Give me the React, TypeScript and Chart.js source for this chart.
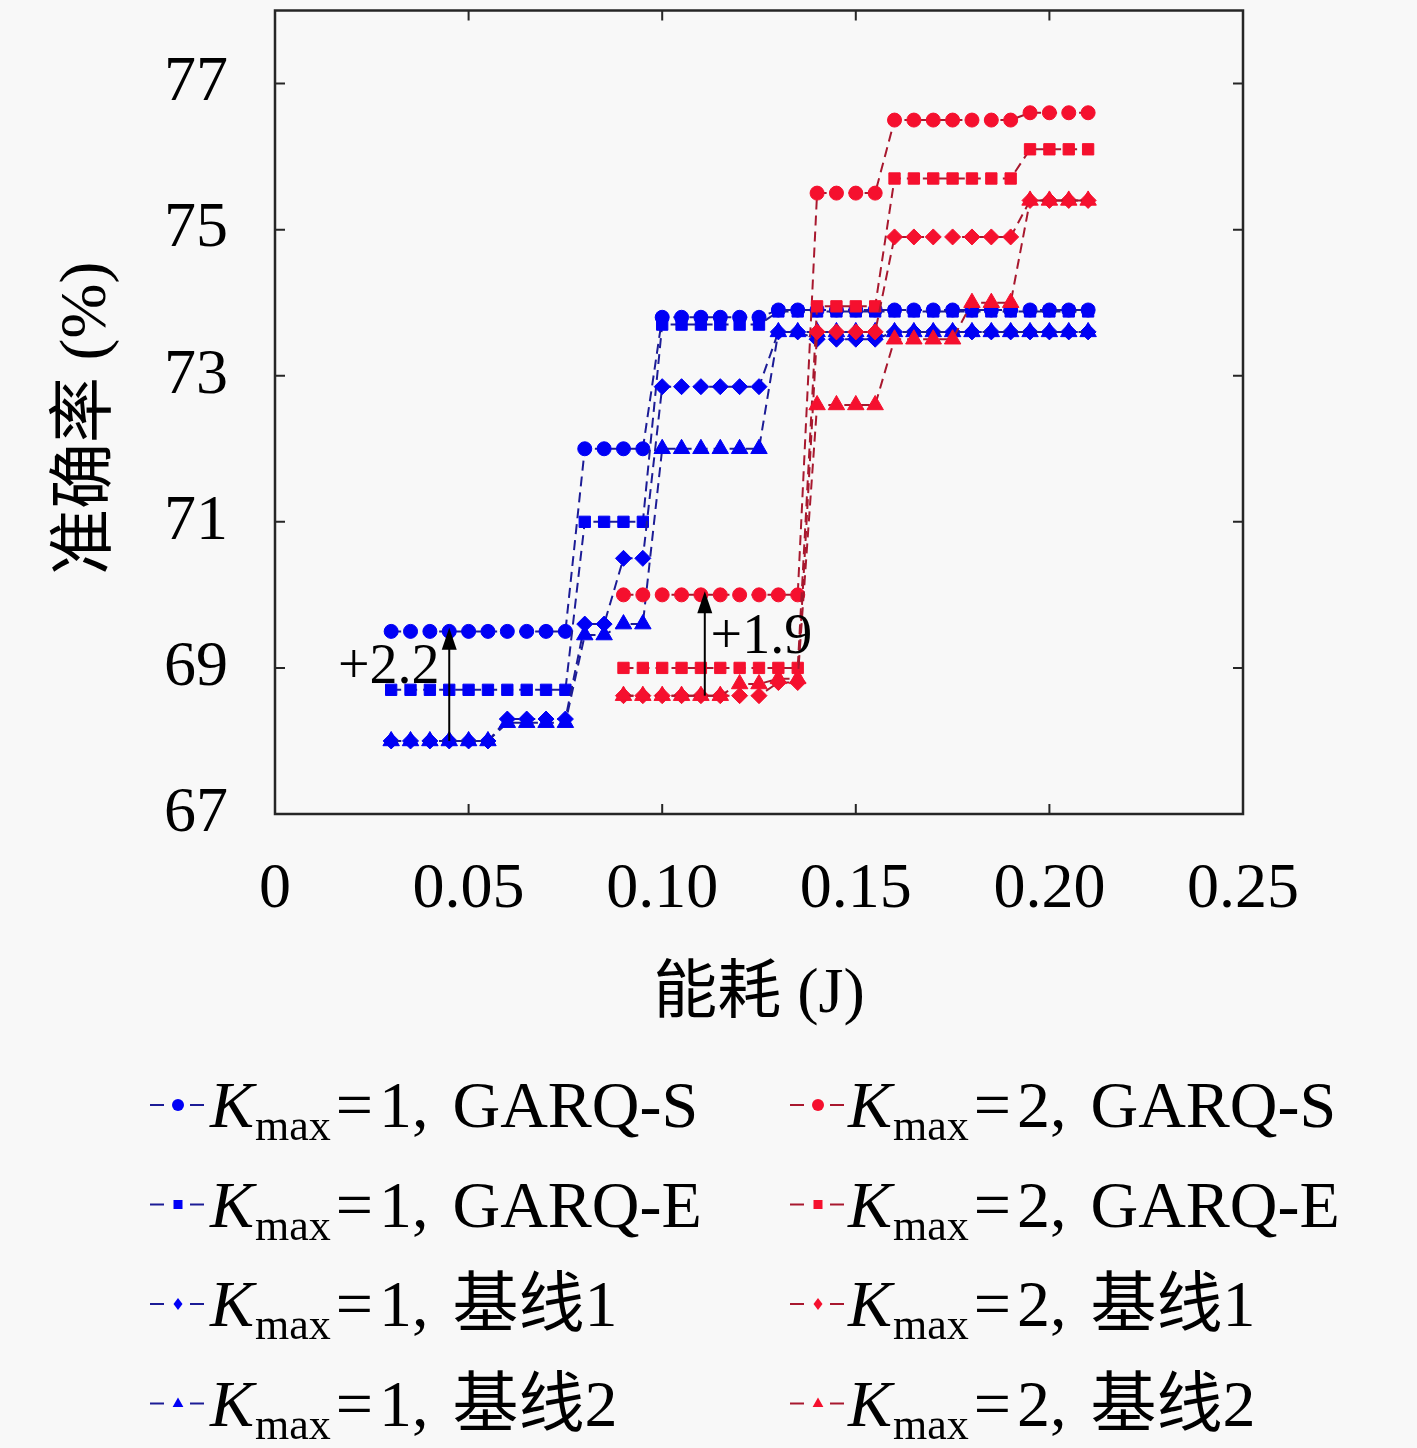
import React, { useEffect, useRef } from 'react';
import { Chart, registerables } from 'chart.js';

Chart.register(...registerables);

// ---------------- data ----------------
const K1_X = [0.03, 0.035, 0.04, 0.045, 0.05, 0.055, 0.06, 0.065, 0.07, 0.075, 0.08, 0.085, 0.09, 0.095, 0.10, 0.105, 0.11, 0.115, 0.12, 0.125, 0.13, 0.135, 0.14, 0.145, 0.15, 0.155, 0.16, 0.165, 0.17, 0.175, 0.18, 0.185, 0.19, 0.195, 0.20, 0.205, 0.21];
const K2_X = [0.09, 0.095, 0.10, 0.105, 0.11, 0.115, 0.12, 0.125, 0.13, 0.135, 0.14, 0.145, 0.15, 0.155, 0.16, 0.165, 0.17, 0.175, 0.18, 0.185, 0.19, 0.195, 0.20, 0.205, 0.21];

const K1_GARQ_S = [69.5, 69.5, 69.5, 69.5, 69.5, 69.5, 69.5, 69.5, 69.5, 69.5, 72.0, 72.0, 72.0, 72.0, 73.8, 73.8, 73.8, 73.8, 73.8, 73.8, 73.9, 73.9, 73.9, 73.9, 73.9, 73.9, 73.9, 73.9, 73.9, 73.9, 73.9, 73.9, 73.9, 73.9, 73.9, 73.9, 73.9];
const K1_GARQ_E = [68.7, 68.7, 68.7, 68.7, 68.7, 68.7, 68.7, 68.7, 68.7, 68.7, 71.0, 71.0, 71.0, 71.0, 73.7, 73.7, 73.7, 73.7, 73.7, 73.7, 73.88, 73.88, 73.88, 73.88, 73.88, 73.88, 73.88, 73.88, 73.88, 73.88, 73.88, 73.88, 73.88, 73.88, 73.88, 73.88, 73.88];
const K1_BASE1 = [68.0, 68.0, 68.0, 68.0, 68.0, 68.0, 68.3, 68.3, 68.3, 68.3, 69.6, 69.6, 70.5, 70.5, 72.85, 72.85, 72.85, 72.85, 72.85, 72.85, 73.6, 73.6, 73.5, 73.5, 73.5, 73.5, 73.6, 73.6, 73.6, 73.6, 73.6, 73.6, 73.6, 73.6, 73.6, 73.6, 73.6];
const K1_BASE2 = [68.0, 68.0, 68.0, 68.0, 68.0, 68.0, 68.25, 68.25, 68.25, 68.25, 69.45, 69.45, 69.6, 69.6, 72.0, 72.0, 72.0, 72.0, 72.0, 72.0, 73.6, 73.6, 73.6, 73.6, 73.6, 73.6, 73.6, 73.6, 73.6, 73.6, 73.6, 73.6, 73.6, 73.6, 73.6, 73.6, 73.6];

const K2_GARQ_S = [70.0, 70.0, 70.0, 70.0, 70.0, 70.0, 70.0, 70.0, 70.0, 70.0, 75.5, 75.5, 75.5, 75.5, 76.5, 76.5, 76.5, 76.5, 76.5, 76.5, 76.5, 76.6, 76.6, 76.6, 76.6];
const K2_GARQ_E = [69.0, 69.0, 69.0, 69.0, 69.0, 69.0, 69.0, 69.0, 69.0, 69.0, 73.95, 73.95, 73.95, 73.95, 75.7, 75.7, 75.7, 75.7, 75.7, 75.7, 75.7, 76.1, 76.1, 76.1, 76.1];
const K2_BASE1 = [68.62, 68.62, 68.62, 68.62, 68.62, 68.62, 68.62, 68.62, 68.8, 68.8, 73.6, 73.6, 73.6, 73.6, 74.9, 74.9, 74.9, 74.9, 74.9, 74.9, 74.9, 75.4, 75.4, 75.4, 75.4];
const K2_BASE2 = [68.62, 68.62, 68.62, 68.62, 68.62, 68.62, 68.78, 68.78, 68.85, 68.85, 72.6, 72.6, 72.6, 72.6, 73.5, 73.5, 73.5, 73.5, 74.0, 74.0, 74.0, 75.4, 75.4, 75.4, 75.4];

const X_TICKS = [0, 0.05, 0.10, 0.15, 0.20, 0.25];
const Y_TICKS = [67, 69, 71, 73, 75, 77];

const SERIES_LABELS = ['GARQ-S', 'GARQ-E', '基线1', '基线2'];
const K_VALUES = ['1', '2'];

// annotations (data coordinates)
const ARROW_X = [0.045, 0.111];
const ARROW_FROM = [68.0, 68.62];
const ARROW_TO = [69.55, 70.05];
const ANNOT_TEXT = ['+2.2', '+1.9'];
const ANNOT_TX = [0.0425, 0.1125];
const ANNOT_TY = [68.8, 69.2];
const ANNOT_ALIGN: CanvasTextAlign[] = ['right', 'left'];

// ---------------- styles ----------------
const W = 1417;
const H = 1448;
const BG = '#f8f8f8';
const BLUE = '#0000f5';
const RED = '#f5102e';
const BLUE_LINE = '#1c1c96';
const RED_LINE = '#a8182e';
const SERIF = '"Liberation Serif", "Noto Sans CJK SC", serif';
const STYLES = ['circle', 'rect', 'rectRot', 'triangle'];
const RADII = [7, 8, 8, 9.5];

function drawMarker(ctx: CanvasRenderingContext2D, style: string, x: number, y: number, r: number, color: string) {
  ctx.save();
  ctx.fillStyle = color;
  ctx.strokeStyle = color;
  ctx.beginPath();
  if (style === 'circle') {
    ctx.arc(x, y, r, 0, Math.PI * 2);
  } else if (style === 'rect') {
    const s = r * 0.75;
    ctx.rect(x - s, y - s, 2 * s, 2 * s);
  } else if (style === 'rectRot') {
    ctx.moveTo(x, y - r);
    ctx.lineTo(x + r * 0.75, y);
    ctx.lineTo(x, y + r);
    ctx.lineTo(x - r * 0.75, y);
    ctx.closePath();
  } else {
    ctx.moveTo(x, y - r);
    ctx.lineTo(x + r * 0.9, y + r * 0.6);
    ctx.lineTo(x - r * 0.9, y + r * 0.6);
    ctx.closePath();
  }
  ctx.fill();
  ctx.restore();
}

const decorPlugin = {
  id: 'decor',
  beforeDraw(chart: any) {
    const ctx = chart.ctx as CanvasRenderingContext2D;
    ctx.save();
    ctx.fillStyle = BG;
    ctx.fillRect(0, 0, chart.width, chart.height);
    ctx.restore();
  },
  afterDatasetsDraw(chart: any) {
    const ctx = chart.ctx as CanvasRenderingContext2D;
    const xs = chart.scales.x;
    const ys = chart.scales.y;
    ctx.save();
    for (let i = 0; i < ARROW_X.length; i++) {
      const px = xs.getPixelForValue(ARROW_X[i]);
      const p0 = ys.getPixelForValue(ARROW_FROM[i]);
      const p1 = ys.getPixelForValue(ARROW_TO[i]);
      const head = 22;
      ctx.strokeStyle = '#000';
      ctx.fillStyle = '#000';
      ctx.lineWidth = 2;
      ctx.setLineDash([]);
      ctx.beginPath();
      ctx.moveTo(px, p0);
      ctx.lineTo(px, p1 + head - 2);
      ctx.stroke();
      ctx.beginPath();
      ctx.moveTo(px, p1);
      ctx.lineTo(px + 7.5, p1 + head);
      ctx.lineTo(px - 7.5, p1 + head);
      ctx.closePath();
      ctx.fill();
      ctx.font = `56px ${SERIF}`;
      ctx.textAlign = ANNOT_ALIGN[i];
      ctx.textBaseline = 'alphabetic';
      ctx.fillText(ANNOT_TEXT[i], xs.getPixelForValue(ANNOT_TX[i]), ys.getPixelForValue(ANNOT_TY[i]));
    }
    ctx.restore();
  },
  afterDraw(chart: any) {
    const ctx = chart.ctx as CanvasRenderingContext2D;
    const a = chart.chartArea;
    const xs = chart.scales.x;
    const ys = chart.scales.y;
    ctx.save();
    // axes box
    ctx.strokeStyle = '#262626';
    ctx.lineWidth = 2.5;
    ctx.setLineDash([]);
    ctx.strokeRect(a.left, a.top, a.right - a.left, a.bottom - a.top);
    // inward ticks
    const tl = 10;
    ctx.lineWidth = 2;
    ctx.beginPath();
    X_TICKS.forEach((v) => {
      const px = xs.getPixelForValue(v);
      ctx.moveTo(px, a.bottom);
      ctx.lineTo(px, a.bottom - tl);
      ctx.moveTo(px, a.top);
      ctx.lineTo(px, a.top + tl);
    });
    Y_TICKS.forEach((v) => {
      const py = ys.getPixelForValue(v);
      ctx.moveTo(a.left, py);
      ctx.lineTo(a.left + tl, py);
      ctx.moveTo(a.right, py);
      ctx.lineTo(a.right - tl, py);
    });
    ctx.stroke();

    // axis titles
    ctx.fillStyle = '#000';
    ctx.textAlign = 'center';
    ctx.textBaseline = 'middle';
    ctx.font = `64px ${SERIF}`;
    ctx.fillText('能耗 (J)', (a.left + a.right) / 2, 995);
    ctx.save();
    ctx.translate(88, (a.top + a.bottom) / 2 + 6);
    ctx.rotate(-Math.PI / 2);
    ctx.font = `66px ${SERIF}`;
    ctx.fillText('准确率 (%)', 0, 0);
    ctx.restore();

    // legend
    const datasets = chart.data.datasets;
    datasets.forEach((ds: any, i: number) => {
      const col = i < 4 ? 0 : 1;
      const row = i % 4;
      const sx = col === 0 ? 150 : 790;
      const tx = col === 0 ? 210 : 848;
      const base = 1127 + row * 99.5;
      const ly = base - 22;
      ctx.save();
      ctx.strokeStyle = ds.borderColor;
      ctx.lineWidth = 2;
      ctx.setLineDash([14, 26]);
      ctx.beginPath();
      ctx.moveTo(sx, ly);
      ctx.lineTo(sx + 55, ly);
      ctx.stroke();
      ctx.restore();
      drawMarker(ctx, ds.pointStyle, sx + 28, ly, 6, ds.pointBackgroundColor);

      ctx.textAlign = 'left';
      ctx.textBaseline = 'alphabetic';
      ctx.fillStyle = '#000';
      let x = tx;
      ctx.font = `italic 66px ${SERIF}`;
      ctx.fillText('K', x, base);
      x += ctx.measureText('K').width + 1;
      ctx.font = `44px ${SERIF}`;
      ctx.fillText('max', x, base + 13);
      x += ctx.measureText('max').width + 5;
      ctx.font = `66px ${SERIF}`;
      ctx.fillText('=', x, base);
      x += ctx.measureText('=').width + 6;
      const kv = K_VALUES[col] + ',';
      ctx.fillText(kv, x, base);
      x += ctx.measureText(kv).width + 24;
      ctx.fillText(SERIES_LABELS[row], x, base);
    });
    ctx.restore();
  },
};

function makeDataset(label: string, xs: number[], ys: number[], idx: number, red: boolean) {
  return {
    label,
    data: xs.map((x, i) => ({ x, y: ys[i] })),
    borderColor: red ? RED_LINE : BLUE_LINE,
    backgroundColor: red ? RED : BLUE,
    pointBackgroundColor: red ? RED : BLUE,
    pointBorderColor: red ? RED : BLUE,
    pointBorderWidth: 1,
    pointStyle: STYLES[idx],
    pointRadius: RADII[idx],
    borderWidth: 2,
    borderDash: [10, 6],
    tension: 0,
    fill: false,
  };
}

export default function App() {
  const ref = useRef<HTMLCanvasElement>(null);
  useEffect(() => {
    const K1 = [K1_GARQ_S, K1_GARQ_E, K1_BASE1, K1_BASE2];
    const K2 = [K2_GARQ_S, K2_GARQ_E, K2_BASE1, K2_BASE2];
    const datasets: any[] = [];
    K1.forEach((ys, i) => datasets.push(makeDataset(`K1 ${SERIES_LABELS[i]}`, K1_X, ys, i, false)));
    K2.forEach((ys, i) => datasets.push(makeDataset(`K2 ${SERIES_LABELS[i]}`, K2_X, ys, i, true)));
    // later datasets drawn on top
    datasets.forEach((d, i) => { d.order = datasets.length - i; });

    const chart = new Chart(ref.current as HTMLCanvasElement, {
      type: 'line',
      data: { datasets },
      options: {
        animation: false,
        responsive: false,
        devicePixelRatio: 1,
        events: [],
        layout: { padding: { left: 0, right: W - 1243, top: 9, bottom: 0 } },
        plugins: { legend: { display: false }, tooltip: { enabled: false } },
        scales: {
          x: {
            type: 'linear',
            min: 0,
            max: 0.25,
            afterBuildTicks: (s: any) => { s.ticks = X_TICKS.map((v) => ({ value: v })); },
            afterFit: (s: any) => {
              s.height = H - 814;
              s.paddingLeft = 0;
              s.paddingRight = 0;
              s.paddingTop = 0;
              s.paddingBottom = 0;
            },
            grid: { display: false, drawTicks: false },
            border: { display: false },
            ticks: {
              autoSkip: false,
              maxRotation: 0,
              padding: 38,
              color: '#000',
              font: { family: SERIF, size: 64 },
              callback: (v: any) => (Number(v) === 0 ? '0' : Number(v).toFixed(2)),
            },
          },
          y: {
            type: 'linear',
            min: 67,
            max: 78,
            afterBuildTicks: (s: any) => { s.ticks = Y_TICKS.map((v) => ({ value: v })); },
            afterFit: (s: any) => {
              s.width = 275;
              s.paddingLeft = 0;
              s.paddingRight = 0;
              s.paddingTop = 0;
              s.paddingBottom = 0;
            },
            grid: { display: false, drawTicks: false },
            border: { display: false },
            ticks: {
              autoSkip: false,
              padding: 47,
              color: '#000',
              font: { family: SERIF, size: 64 },
              callback: (v: any) => String(v),
            },
          },
        },
      },
      plugins: [decorPlugin],
    } as any);
    return () => chart.destroy();
  }, []);
  return (
    <div style={{ position: 'absolute', left: 0, top: 0, width: W, height: H, background: BG }}>
      <canvas ref={ref} width={W} height={H} style={{ width: W, height: H, display: 'block' }} />
    </div>
  );
}
